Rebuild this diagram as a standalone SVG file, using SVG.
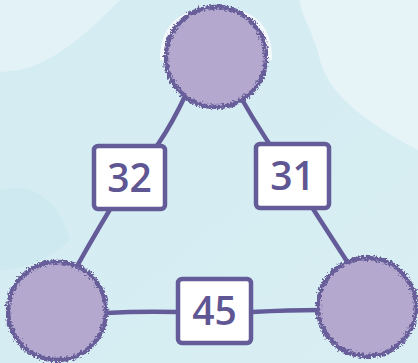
<svg xmlns="http://www.w3.org/2000/svg" width="418" height="363" viewBox="0 0 418 363">
<defs>
<linearGradient id="bg" x1="0" y1="0" x2="1" y2="1">
<stop offset="0" stop-color="#d3ecf2"/>
<stop offset="1" stop-color="#d8eef3"/>
</linearGradient>
<filter id="rough" x="-10%" y="-10%" width="120%" height="120%">
<feTurbulence type="fractalNoise" baseFrequency="0.45" numOctaves="2" seed="3"/>
<feDisplacementMap in="SourceGraphic" scale="7" xChannelSelector="R" yChannelSelector="G"/>
</filter>
<style>
.edge{stroke:#645c98;stroke-width:4.5;stroke-linecap:round;fill:none}
.ball{fill:#b4a8cf;stroke:#675e9a;stroke-width:4.5}
.box{fill:#ffffff;stroke:#645c98;stroke-width:4.5;stroke-linejoin:round}
.num{font-family:"Open Sans","DejaVu Sans",sans-serif;font-weight:600;font-size:39px;fill:#5f5793;text-anchor:middle}
</style>
</defs>
<rect width="418" height="363" fill="url(#bg)"/>
<path d="M300 0 L418 0 L418 150 C380 130 330 100 320 60 C315 35 300 15 300 0 Z" fill="#e6f4f7"/>
<path d="M0 0 L120 0 C90 30 60 60 20 70 L0 72 Z" fill="#e2f2f6"/>
<path d="M0 190 C30 180 60 200 70 240 C50 260 20 270 0 270 Z" fill="#cfe9f0"/>
<path d="M160 60 C160 20 185 8 216 8 C250 8 272 20 272 60 Z" fill="#f4fafc"/>
<g id="connectors">
<path class="edge" d="M186 94 Q160 150 128 180 Q100 225 76 268"/>
<path class="edge" d="M240 96 Q265 140 292 176 Q320 220 350 266"/>
<path class="edge" d="M106 313 Q140 311 178 312"/>
<path class="edge" d="M252 312 Q290 310 320 310"/>
</g>
<g id="node-top"><circle class="ball" cx="216" cy="57" r="50" filter="url(#rough)"/></g>
<g id="node-left"><circle class="ball" cx="57" cy="311" r="49" filter="url(#rough)"/></g>
<g id="node-right"><circle class="ball" cx="367" cy="307" r="49" filter="url(#rough)"/></g>
<g id="box-32"><rect class="box" x="94" y="146" width="71" height="63" rx="4"/><text class="num" x="129.5" y="192">32</text></g>
<g id="box-31"><rect class="box" x="256" y="144" width="73" height="64" rx="4"/><text class="num" x="292.5" y="190">31</text></g>
<g id="box-45"><rect class="box" x="178" y="279" width="73" height="64" rx="4"/><text class="num" x="214.5" y="325">45</text></g>
</svg>
